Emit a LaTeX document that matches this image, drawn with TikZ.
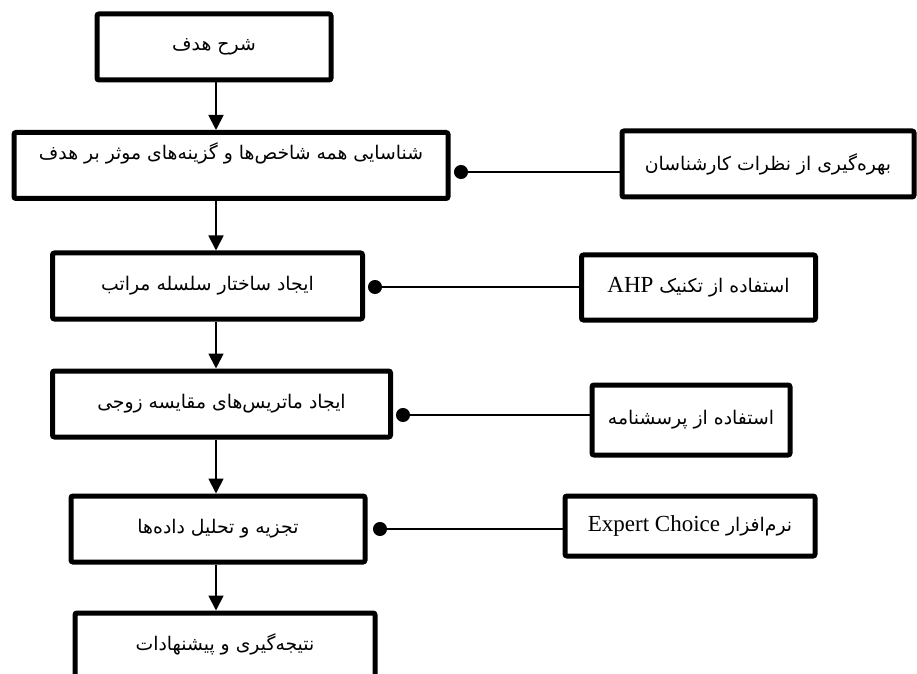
\documentclass[tikz,border=0pt]{standalone}
\usepackage{fontspec}
\setmainfont{Liberation Serif}
\newfontfamily\fa[Script=Arabic]{DejaVu Sans}
\TeXXeTstate=1
\usepackage{tikz}
\usetikzlibrary{arrows.meta, positioning}

\newcommand{\fatxt}[1]{{\fa\beginR #1\endR}}

\begin{document}
\begin{tikzpicture}[x=0.5pt, y=-0.5pt, font=\fontsize{9.4}{12}\selectfont]
		\tikzstyle{box} = [draw=black, line width=2.5pt, rounded corners=1pt, inner sep=0pt, minimum height=33pt]
		\tikzstyle{arrow} = [line width=0.9pt, -{Triangle[width=7.5pt, length=7.5pt]}]
		\tikzstyle{link} = [line width=0.8pt, -{Circle[length=7pt]}]
		
		\useasboundingbox (0, 0) rectangle (917, 674);
		
		% main column
		\node[box, minimum width=117pt] 	at (214, 47)		(goal) 	{\fatxt{شرح هدف}};
		\node[box, minimum width=217pt, minimum height=33pt, text depth=14pt] 	at (231, 165.5)	(crit) 	{\fatxt{شناسایی همه شاخص‌ها و گزینه‌های موثر بر هدف}};
		\node[box, minimum width=155pt] 	at (207.5, 286)	(hier) 	{\fatxt{ایجاد ساختار سلسله مراتب}};
		\node[box, minimum width=169pt] 	at (221.5, 404)	(pair) 	{\fatxt{ایجاد ماتریس‌های مقایسه زوجی}};
		\node[box, minimum width=147pt] 	at (218, 529)		(anal) 	{\fatxt{تجزیه و تحلیل داده‌ها}};
		\node[box, minimum width=150pt, minimum height=35pt, text depth=6pt] 	at (225, 648)		(res) 	{\fatxt{نتیجه‌گیری و پیشنهادات}};
		
		% side boxes
		\node[box, minimum width=146pt] 	at (768, 164)		(expert) 	{\fatxt{بهره‌گیری از نظرات کارشناسان}};
		\node[box, minimum width=117pt, minimum height=32.5pt] 	at (698.5, 287.5)	(ahp) 	{\fatxt{استفاده از تکنیک \beginL\rmfamily\fontsize{11.5}{13}\selectfont AHP\endL}};
		\node[box, minimum width=99pt, minimum height=35pt] 	at (691, 420)		(quest) 	{\fatxt{استفاده از پرسشنامه}};
		\node[box, minimum width=125pt, minimum height=30pt] 	at (690, 526)		(soft) 	{\fatxt{نرم‌افزار \beginL\rmfamily\fontsize{11.5}{13}\selectfont Expert Choice\endL}};
		
		\coordinate (axis) at (216, 0);
		\coordinate (d1) at (454, 172);
		\coordinate (d2) at (368, 287);
		\coordinate (d3) at (396, 415);
		\coordinate (d4) at (373, 529);
		
		\draw[arrow] (axis |- goal.south) -- (axis |- crit.north);
		\draw[arrow] (axis |- crit.south) -- (axis |- hier.north);
		\draw[arrow] (axis |- hier.south) -- (axis |- pair.north);
		\draw[arrow] (axis |- pair.south) -- (axis |- anal.north);
		\draw[arrow] (axis |- anal.south) -- (axis |- res.north);
		
		\draw[link] (expert.west |- d1) -- (d1);
		\draw[link] (ahp.west |- d2) -- (d2);
		\draw[link] (quest.west |- d3) -- (d3);
		\draw[link] (soft.west |- d4) -- (d4);
	\end{tikzpicture}
\end{document}
